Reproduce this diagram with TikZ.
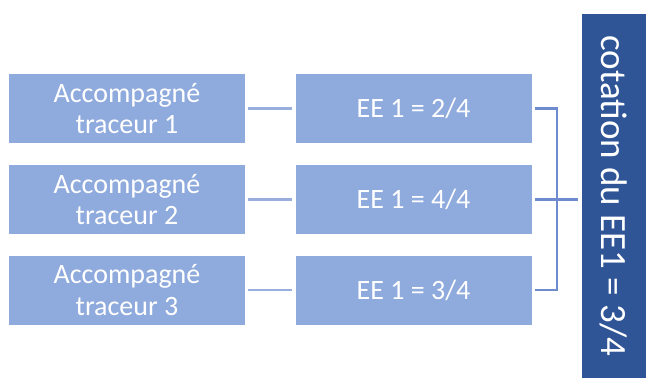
\documentclass[tikz,border=0pt]{standalone}
\usepackage{fontspec}
\setmainfont{Carlito}
\usetikzlibrary{positioning}

\definecolor{boxblue}{HTML}{8FAADC}
\definecolor{darkblue}{HTML}{2F5597}
\definecolor{lineblue}{HTML}{98AEDD}
\definecolor{forkblue}{HTML}{6E8BCF}

\tikzset{
  tracer/.style={fill=boxblue, text=white, minimum width=236pt, minimum height=69pt,
    inner sep=0pt, align=center, font=\fontsize{28}{31.5}\selectfont},
  result/.style={fill=darkblue, text=white, minimum width=364pt, minimum height=64pt,
    inner sep=0pt, rotate=-90, font=\fontsize{37}{44}\selectfont},
  link/.style={draw=lineblue, line width=2.2pt, shorten <=3pt, shorten >=3pt},
  forklink/.style={link, draw=forkblue}
}

\begin{document}
\begin{tikzpicture}[x=1pt, y=-1pt]
  \useasboundingbox (0,0) rectangle (646,378);
  % Tracers
  \node[tracer] (t1) at (127,108.5) {Accompagné\\traceur 1};
  \node[tracer] (t2) at (127,199.5) {Accompagné\\traceur 2};
  \node[tracer] (t3) at (127,290) {Accompagné\\traceur 3};
  % Scores
  \node[tracer] (e1) at (413.5,108.5) {EE 1 = 2/4};
  \node[tracer] (e2) at (413.5,199.5) {EE 1 = 4/4};
  \node[tracer] (e3) at (413.5,290) {EE 1 = 3/4};
  % Final score
  \node[result] (res) at (614,196) {cotation du EE1 = 3/4};
  % Links
  \draw[link] (t1) -- (e1);
  \draw[link] (t2) -- (e2);
  \draw[link] (t3) -- (e3);
  % Bracket
  \coordinate (fork) at (557,199.5);
  \draw[forklink] (e1.east) -| (fork) |- (e3.east);
  \draw[forklink, shorten >=4pt] (e2.east) -- (e2.east -| res.south);
\end{tikzpicture}
\end{document}
